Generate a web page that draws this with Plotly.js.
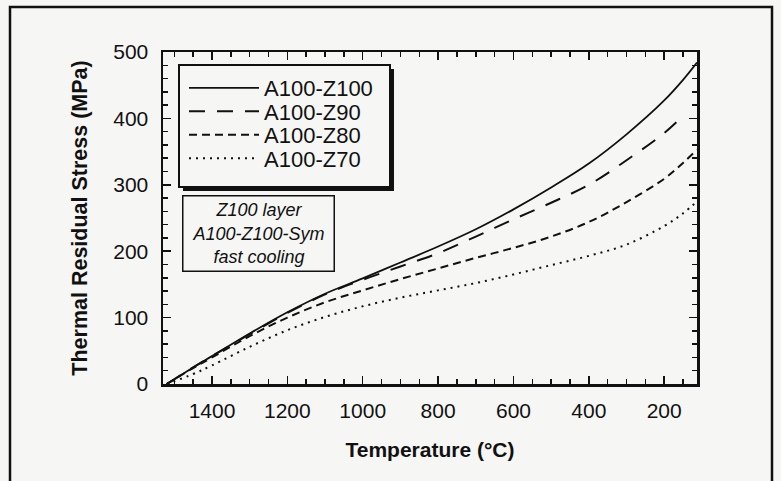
<!DOCTYPE html>
<html>
<head>
<meta charset="utf-8">
<script src="https://cdn.plot.ly/plotly-3.0.1.min.js"></script>
<style>html,body{margin:0;padding:0;background:#f6f6f4;}</style>
</head>
<body>
<div id="chart" style="width:781px;height:481px;"></div>
<script>
// Temperature (°C) sample points
const temps = [1520, 1450, 1400, 1300, 1200, 1100, 1000, 900, 800, 700, 600, 500, 400, 300, 200, 150, 113];
// Thermal residual stress (MPa)
const z100 = [0, 25, 42, 76, 108, 136, 159, 183, 207, 233, 263, 296, 332, 376, 427, 458, 484];
const z90  = [0, 25, 42, 75, 107, 135, 157, 177, 197, 222, 248, 273, 300, 337, 378, 404, null];
const z80  = [0, 24, 40, 72, 100, 123, 141, 158, 174, 190, 205, 222, 244, 274, 309, 333, 353];
const z70  = [0, 15, 28, 56, 81, 101, 117, 130, 141, 152, 165, 179, 193, 210, 238, 257, 275];
const seriesNames = ['A100-Z100', 'A100-Z90', 'A100-Z80', 'A100-Z70'];
const xTickVals = [1400, 1200, 1000, 800, 600, 400, 200];
const yTickVals = [0, 100, 200, 300, 400, 500];
const noteLines = ['Z100 layer', 'A100-Z100-Sym', 'fast cooling'];

const ink = '#111111';
const paper = '#f6f6f4';
const fontFam = '"Liberation Sans", Arial, Helvetica, sans-serif';

const dashes = ['solid', '16px,12px', '8px,5px', '2px,5px'];
const widths = [1.8, 2, 2, 2];
const ys = [z100, z90, z80, z70];
const legendIds = ['legend', 'legend2', 'legend3', 'legend4'];

const traces = ys.map((y, i) => ({
  x: temps, y: y, name: seriesNames[i], type: 'scatter', mode: 'lines',
  legend: legendIds[i],
  line: {color: ink, width: widths[i], dash: dashes[i], shape: 'spline', smoothing: 1},
  connectgaps: false, hoverinfo: 'skip'
}));

const L = 163, R = 697, T = 52, B = 384;
const W = R - L, H = B - T;
const fx = p => (p - L) / W;
const fy = p => (B - p) / H;

const rowY = [88, 111.5, 135, 158.5];

const layout = {
  width: 781, height: 481,
  paper_bgcolor: paper, plot_bgcolor: paper,
  margin: {l: L, r: 781 - R, t: T, b: 481 - B, pad: 0},
  font: {family: fontFam, color: ink, size: 21},
  showlegend: true,
  xaxis: {
    range: [1530, 113], tickvals: xTickVals, ticktext: xTickVals.map(String),
    ticks: 'inside', ticklen: 8, tickwidth: 1.5, tickcolor: ink,
    minor: {dtick: 50, tick0: 0, ticks: 'inside', ticklen: 5, tickwidth: 1.5, tickcolor: ink},
    showline: true, linewidth: 2.5, linecolor: ink, mirror: 'allticks',
    showgrid: false, zeroline: false,
    tickfont: {family: fontFam, size: 21, color: ink},
    ticklabelstandoff: 6,
    title: {text: 'Temperature (°C)', font: {family: fontFam, size: 21, color: ink, weight: 'bold'}, standoff: 22}
  },
  yaxis: {
    range: [0, 500], tickvals: yTickVals, ticktext: yTickVals.map(String),
    ticks: 'inside', ticklen: 8, tickwidth: 1.5, tickcolor: ink,
    minor: {dtick: 20, tick0: 0, ticks: 'inside', ticklen: 5, tickwidth: 1.5, tickcolor: ink},
    showline: true, linewidth: 2.5, linecolor: ink, mirror: 'allticks',
    showgrid: false, zeroline: false,
    tickfont: {family: fontFam, size: 21, color: ink},
    ticklabelstandoff: 8,
    title: {text: 'Thermal Residual Stress (MPa)', font: {family: fontFam, size: 21.5, color: ink, weight: 'bold'}, standoff: 20}
  },
  shapes: [
    // outer figure frame
    {type: 'rect', xref: 'paper', yref: 'paper', x0: fx(10), x1: fx(772), y0: fy(495), y1: fy(7),
     line: {color: ink, width: 2.5}, fillcolor: 'rgba(0,0,0,0)', layer: 'above'},
    // legend shadow
    {type: 'rect', xref: 'paper', yref: 'paper', x0: fx(183), x1: fx(394), y0: fy(191), y1: fy(69),
     line: {width: 0}, fillcolor: ink, layer: 'above'},
    // legend box
    {type: 'rect', xref: 'paper', yref: 'paper', x0: fx(179), x1: fx(390), y0: fy(187), y1: fy(65),
     line: {color: ink, width: 2}, fillcolor: paper, layer: 'above'}
  ],
  annotations: [{
    xref: 'paper', yref: 'paper', x: fx(258.5), y: fy(234), xanchor: 'center', yanchor: 'middle',
    text: noteLines.join('<br>'), showarrow: false, align: 'center',
    font: {family: fontFam, size: 18, color: ink, style: 'italic'},
    width: 150, height: 74, borderwidth: 1.5, bordercolor: ink, borderpad: 0, bgcolor: paper
  }]
};

legendIds.forEach((id, i) => {
  layout[id] = {
    x: fx(184), y: fy(rowY[i]), xanchor: 'left', yanchor: 'middle',
    bgcolor: 'rgba(0,0,0,0)', borderwidth: 0,
    font: {family: fontFam, size: 22, color: ink},
    itemwidth: 70
  };
});

Plotly.newPlot('chart', traces, layout, {staticPlot: true, displayModeBar: false});
</script>
</body>
</html>
